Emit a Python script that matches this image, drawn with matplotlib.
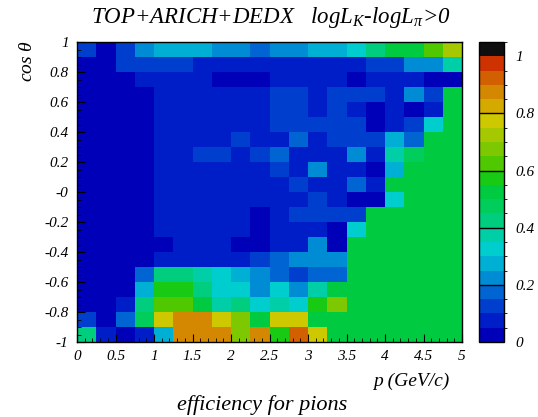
import numpy as np
import matplotlib
matplotlib.use("Agg")
import matplotlib.pyplot as plt
from matplotlib.colors import ListedColormap, BoundaryNorm

plt.rcParams["font.family"] = ["Liberation Serif", "DejaVu Serif"]
plt.rcParams["font.style"] = "italic"
plt.rcParams["mathtext.fontset"] = "custom"
plt.rcParams["mathtext.rm"] = "Liberation Serif:italic"
plt.rcParams["mathtext.it"] = "Liberation Serif:italic"

# momentum bins (GeV/c) and cos(theta) bins
p_edges = np.linspace(0, 5, 21)
cos_edges = np.linspace(-1, 1, 21)

# pion mis-ID efficiency, rows from cos=1 (top) down to cos=-1 (bottom)
eff_rows = [
    [0.14, 0.03, 0.12, 0.22, 0.27, 0.27, 0.27, 0.22, 0.22, 0.17, 0.22, 0.22, 0.27, 0.27, 0.32, 0.42, 0.52, 0.52, 0.62, 0.72],
    [0.03, 0.03, 0.12, 0.12, 0.12, 0.12, 0.07, 0.07, 0.07, 0.07, 0.07, 0.07, 0.07, 0.07, 0.07, 0.12, 0.12, 0.22, 0.22, 0.37],
    [0.03, 0.03, 0.03, 0.07, 0.07, 0.07, 0.07, 0.03, 0.03, 0.03, 0.07, 0.07, 0.07, 0.07, 0.03, 0.07, 0.07, 0.07, 0.03, 0.03],
    [0.03, 0.03, 0.03, 0.03, 0.07, 0.07, 0.07, 0.07, 0.07, 0.07, 0.12, 0.12, 0.07, 0.12, 0.12, 0.12, 0.07, 0.22, 0.12, 0.52],
    [0.03, 0.03, 0.03, 0.03, 0.07, 0.07, 0.07, 0.07, 0.07, 0.07, 0.12, 0.12, 0.07, 0.12, 0.07, 0.03, 0.07, 0.03, 0.07, 0.52],
    [0.03, 0.03, 0.03, 0.03, 0.07, 0.07, 0.07, 0.07, 0.07, 0.07, 0.12, 0.12, 0.12, 0.12, 0.12, 0.03, 0.07, 0.12, 0.32, 0.52],
    [0.03, 0.03, 0.03, 0.03, 0.07, 0.07, 0.07, 0.07, 0.12, 0.07, 0.07, 0.17, 0.07, 0.12, 0.12, 0.12, 0.27, 0.17, 0.52, 0.52],
    [0.03, 0.03, 0.03, 0.03, 0.07, 0.07, 0.12, 0.12, 0.07, 0.12, 0.17, 0.07, 0.07, 0.07, 0.22, 0.07, 0.37, 0.45, 0.52, 0.52],
    [0.03, 0.03, 0.03, 0.03, 0.07, 0.07, 0.07, 0.07, 0.07, 0.07, 0.12, 0.07, 0.22, 0.07, 0.07, 0.03, 0.27, 0.52, 0.52, 0.52],
    [0.03, 0.03, 0.03, 0.03, 0.07, 0.07, 0.07, 0.07, 0.07, 0.07, 0.07, 0.12, 0.07, 0.07, 0.17, 0.07, 0.52, 0.52, 0.52, 0.52],
    [0.03, 0.03, 0.03, 0.03, 0.07, 0.07, 0.07, 0.07, 0.07, 0.07, 0.07, 0.07, 0.12, 0.07, 0.03, 0.03, 0.32, 0.52, 0.52, 0.52],
    [0.03, 0.03, 0.03, 0.03, 0.07, 0.07, 0.07, 0.07, 0.07, 0.03, 0.07, 0.12, 0.12, 0.12, 0.12, 0.52, 0.52, 0.52, 0.52, 0.52],
    [0.03, 0.03, 0.03, 0.03, 0.07, 0.07, 0.07, 0.07, 0.07, 0.03, 0.07, 0.07, 0.07, 0.03, 0.32, 0.52, 0.52, 0.52, 0.52, 0.52],
    [0.03, 0.03, 0.03, 0.03, 0.03, 0.07, 0.07, 0.07, 0.03, 0.03, 0.07, 0.07, 0.22, 0.03, 0.52, 0.52, 0.52, 0.52, 0.52, 0.52],
    [0.03, 0.03, 0.03, 0.03, 0.07, 0.07, 0.07, 0.07, 0.07, 0.12, 0.17, 0.22, 0.22, 0.22, 0.52, 0.52, 0.52, 0.52, 0.52, 0.52],
    [0.03, 0.03, 0.03, 0.17, 0.42, 0.42, 0.38, 0.32, 0.27, 0.22, 0.17, 0.12, 0.17, 0.17, 0.52, 0.52, 0.52, 0.52, 0.52, 0.52],
    [0.03, 0.03, 0.03, 0.27, 0.57, 0.57, 0.42, 0.32, 0.32, 0.22, 0.32, 0.22, 0.37, 0.52, 0.52, 0.52, 0.52, 0.52, 0.52, 0.52],
    [0.03, 0.03, 0.07, 0.42, 0.62, 0.62, 0.52, 0.37, 0.42, 0.32, 0.37, 0.32, 0.57, 0.67, 0.52, 0.52, 0.52, 0.52, 0.52, 0.52],
    [0.12, 0.03, 0.17, 0.48, 0.77, 0.87, 0.87, 0.77, 0.67, 0.52, 0.77, 0.79, 0.52, 0.52, 0.52, 0.52, 0.52, 0.52, 0.52, 0.52],
    [0.42, 0.07, 0.03, 0.07, 0.27, 0.87, 0.87, 0.87, 0.67, 0.87, 0.57, 0.92, 0.78, 0.52, 0.52, 0.52, 0.52, 0.52, 0.52, 0.52],
]

x_ticks = [0, 0.5, 1, 1.5, 2, 2.5, 3, 3.5, 4, 4.5, 5]
x_ticklabels = ["0", "0.5", "1", "1.5", "2", "2.5", "3", "3.5", "4", "4.5", "5"]
y_ticks = [-1, -0.8, -0.6, -0.4, -0.2, 0, 0.2, 0.4, 0.6, 0.8, 1]
y_ticklabels = ["-1", "-0.8", "-0.6", "-0.4", "-0.2", "-0", "0.2", "0.4", "0.6", "0.8", "1"]
z_ticks = [0, 0.2, 0.4, 0.6, 0.8, 1]
z_ticklabels = ["0", "0.2", "0.4", "0.6", "0.8", "1"]

# ROOT-like rainbow palette, 20 contours of 0.05 plus overflow band
palette = [
    (0, 0, 185), (0, 30, 200), (0, 62, 206), (0, 100, 210), (0, 140, 212),
    (0, 176, 212), (0, 206, 206), (0, 206, 166), (0, 206, 126), (0, 205, 92),
    (0, 202, 64), (25, 202, 20), (80, 200, 0), (125, 200, 0), (165, 200, 0),
    (205, 200, 0), (212, 170, 0), (212, 135, 0), (210, 95, 0), (205, 50, 0),
    (15, 15, 15),
]
cmap = ListedColormap([(r / 255, g / 255, b / 255) for r, g, b in palette])
levels = np.round(np.arange(0, 1.0501, 0.05), 3)
norm = BoundaryNorm(levels, cmap.N)

fig = plt.figure(figsize=(5.38, 4.17), dpi=100)
ax = fig.add_axes([77 / 538, 75 / 417, 385 / 538, 300 / 417])
cax = fig.add_axes([479 / 538, 75 / 417, 25 / 538, 300 / 417])

Z = np.array(eff_rows)[::-1]
mesh = ax.pcolormesh(p_edges, cos_edges, Z, cmap=cmap, norm=norm)

ax.set_xlim(0, 5)
ax.set_ylim(-1, 1)
ax.set_xticks(x_ticks)
ax.set_xticklabels(x_ticklabels)
ax.set_yticks(y_ticks)
ax.set_yticklabels(y_ticklabels)
ax.set_xticks(np.arange(0, 5.01, 0.1), minor=True)
ax.set_yticks(np.arange(-1, 1.01, 0.05), minor=True)
ax.tick_params(direction="in", labelsize=11, length=6, width=0.8, pad=6)
ax.tick_params(which="minor", direction="in", length=3, width=0.6)
for s in ax.spines.values():
    s.set_linewidth(1.0)

cb = fig.colorbar(mesh, cax=cax, boundaries=levels, ticks=z_ticks)
cb.ax.set_yticklabels(z_ticklabels)
cb.ax.tick_params(length=0, labelsize=11, pad=8)
cb.outline.set_linewidth(1.0)
for v in z_ticks[1:-1]:
    cb.ax.axhline(v, color="black", lw=1.0)

fig.text(271 / 538, 1 - 18 / 417, r"TOP+ARICH+DEDX   logL$_K$-logL$_\pi$>0",
         ha="center", va="center", fontsize=16.5, style="italic")
fig.text(449 / 538, 1 - 381 / 417, "p (GeV/c)", ha="right", va="center", fontsize=14)
fig.text(262 / 538, 1 - 405 / 417, "efficiency for pions", ha="center", va="center", fontsize=16)
fig.text(28 / 538, 1 - 40 / 417, r"cos $\theta$", ha="center", va="top", rotation=90, fontsize=14)

fig.savefig("out.png", dpi=100)
